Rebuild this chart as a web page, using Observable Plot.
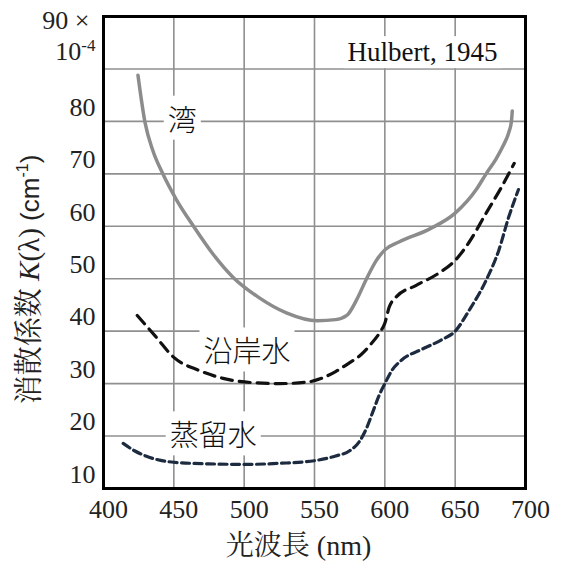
<!DOCTYPE html>
<html>
<head>
<meta charset="utf-8">
<script src="https://cdn.jsdelivr.net/npm/d3@7"></script>
<script src="https://cdn.jsdelivr.net/npm/@observablehq/plot@0.6"></script>
<style>
  html, body { margin: 0; padding: 0; background: white; }
</style>
</head>
<body>
<div id="chart"></div>
<script>
// ---- tick labels / grid ----
const xTicks = [400, 450, 500, 550, 600, 650, 700];
const yTicks = [10, 20, 30, 40, 50, 60, 70, 80];
const gridXValues = [450, 500, 550, 600, 650];
const gridYValues = [20, 30, 40, 50, 60, 70, 80, 90];
const topTickLabel = "90 ×";
const topTickValue = 99.2;
const unitLabel = "10-4";
const unitValue = 93.2;

// ---- series: 湾 (bay) ----
const bayWavelength = [424.5, 429.5, 435, 442, 452, 464, 477, 492, 510, 530, 552, 565, 573, 580, 587, 594, 600, 610, 632, 650, 665, 672, 679, 684, 688, 690, 690.6];
const bayK          = [88.8, 79.8, 74.5, 70.1, 65, 60, 55, 50.3, 46.5, 43.5, 42, 42.2, 43, 46, 50, 53.5, 55.5, 57, 59.5, 62.5, 67, 70, 72.8, 75.3, 77.8, 80, 82];

// ---- series: 沿岸水 (coastal water) ----
const coastWavelength = [424, 437, 450, 468, 485, 505, 525, 545, 555, 565, 575, 583, 590, 597, 600, 603, 608, 622, 638, 650, 660, 672, 683, 692];
const coastK          = [43, 39, 35, 32.5, 31, 30.2, 30, 30.3, 31, 32.3, 34, 35.5, 37.5, 40, 41.5, 44.5, 46.5, 48.7, 51, 53.5, 57, 62.5, 67.5, 72];

// ---- series: 蒸留水 (distilled water) ----
const distWavelength = [414, 422, 430, 450, 475, 500, 525, 550, 565, 575, 582, 587, 592, 596, 600, 605, 612, 626, 640, 650, 660, 672, 681, 688, 695];
const distK          = [18.6, 17.2, 16.2, 15, 14.7, 14.6, 14.8, 15.3, 16.2, 17.2, 19, 21.5, 25, 27.8, 30, 32.5, 34.5, 36.5, 38.3, 40, 44, 49.7, 55.4, 61.7, 67];

// ---- curve labels ----
const labelNames = ["湾", "沿岸水", "蒸留水"];
const labelX = [456, 502, 478];
const labelY = [80, 35.8, 19.8];

const toRows = (xs, ys) => xs.map((x, i) => ({x, y: ys[i]}));
const bay = toRows(bayWavelength, bayK);
const coast = toRows(coastWavelength, coastK);
const dist = toRows(distWavelength, distK);
const labels = labelNames.map((t, i) => ({t, x: labelX[i], y: labelY[i]}));

const SERIF = "'Liberation Serif'";
const SANS = "'Liberation Sans'";
const CJK = "'Noto Sans CJK JP'";
const CJK_SERIF = "'Noto Serif CJK JP'";

const chart = Plot.plot({
  width: 565,
  height: 561,
  marginLeft: 103,
  marginRight: 40,
  marginTop: 16,
  marginBottom: 73,
  x: {domain: [400, 700]},
  y: {domain: [10, 100]},
  style: {fontSize: "26px", background: "white", color: "#111"},
  marks: [
    Plot.gridX(gridXValues, {stroke: "#8f8f8f", strokeOpacity: 1, strokeWidth: 1.6}),
    Plot.gridY(gridYValues, {stroke: "#8f8f8f", strokeOpacity: 1, strokeWidth: 1.6}),
    Plot.axisX(xTicks, {tickSize: 0, tickPadding: 11, dx: 5, label: null, fontSize: 26, fill: "#222", className: "serif-text"}),
    Plot.axisY(yTicks, {tickSize: 0, tickPadding: 8, dy: -14, label: null, fontSize: 26, fill: "#222", className: "serif-text"}),
    Plot.text([topTickLabel], {frameAnchor: "left", y: () => topTickValue, text: d => d, textAnchor: "end", dx: -14, fontSize: 26, fill: "#222", className: "serif-text"}),
    Plot.text([unitLabel], {frameAnchor: "left", y: () => unitValue, text: d => d, textAnchor: "end", dx: -8, fontSize: 26, fill: "#222", className: "unit-label serif-text"}),
    Plot.text(labels, {x: "x", y: "y", text: "t", fontSize: 29, fill: "#111", className: "curve-label cjk-text"}),
    Plot.text(["Hulbert, 1945"], {frameAnchor: "top-right", text: d => d, textAnchor: "end", lineAnchor: "middle", dx: -28, dy: 36, fontSize: 27, fill: "#111", className: "source-label serif-text"}),
    Plot.line(bay, {x: "x", y: "y", stroke: "#8c8c8c", strokeWidth: 3.5, curve: "monotone-x"}),
    Plot.line(coast, {x: "x", y: "y", stroke: "#111111", strokeWidth: 3.2, strokeDasharray: "11,7", curve: "monotone-x"}),
    Plot.line(dist, {x: "x", y: "y", stroke: "#1c2b3f", strokeWidth: 3.2, strokeDasharray: "8,4.5", curve: "monotone-x"}),
    Plot.text(["y-title"], {frameAnchor: "left", text: d => d, rotate: -90, textAnchor: "middle", dx: -74, dy: 27, fontSize: 29, fill: "#222", className: "y-title"}),
    Plot.text(["x-title"], {frameAnchor: "bottom", text: d => d, textAnchor: "middle", dx: -16, dy: 66, fontSize: 28, fill: "#222", className: "x-title"}),
    Plot.frame({stroke: "#000", strokeWidth: 3})
  ]
});

document.getElementById("chart").appendChild(chart);

const svg = d3.select(chart);
svg.selectAll("g.serif-text text").attr("font-family", SERIF).style("font-family", SERIF);
svg.selectAll("g.cjk-text text").attr("font-family", CJK).style("font-family", CJK).style("font-weight", "300");

{
  const t = svg.select("g.y-title text");
  t.text(null);
  t.append("tspan").style("font-family", CJK_SERIF).text("消散係数 ");
  t.append("tspan").style("font-family", SERIF).style("font-style", "italic").text("K");
  t.append("tspan").style("font-family", SERIF).text("(λ) ");
  t.append("tspan").style("font-family", SANS).style("font-size", "26px").text("(cm");
  t.append("tspan").style("font-family", SANS).style("font-size", "16px").attr("dy", "-0.7em").text("-1");
  t.append("tspan").style("font-family", SANS).style("font-size", "26px").attr("dy", "0.45em").text(")");
}
{
  const t = svg.select("g.x-title text");
  t.text(null);
  t.append("tspan").style("font-family", CJK_SERIF).text("光波長 ");
  t.append("tspan").style("font-family", SERIF).text("(nm)");
}
{
  const t = svg.select("g.unit-label text");
  t.text(null);
  t.append("tspan").text("10");
  t.append("tspan").style("font-size", "17px").attr("dy", "-0.55em").text("-4");
}
// white boxes behind curve labels and source label
svg.selectAll("g.curve-label text, g.source-label text").each(function() {
  const b = this.getBBox();
  const tr = this.getAttribute("transform") || "";
  const pad = 4;
  d3.select(this.parentNode).insert("rect", () => this)
    .attr("x", b.x - pad).attr("y", b.y - 1)
    .attr("width", b.width + 2 * pad).attr("height", b.height + 2)
    .attr("transform", tr || null)
    .attr("fill", "white");
});
</script>
</body>
</html>
